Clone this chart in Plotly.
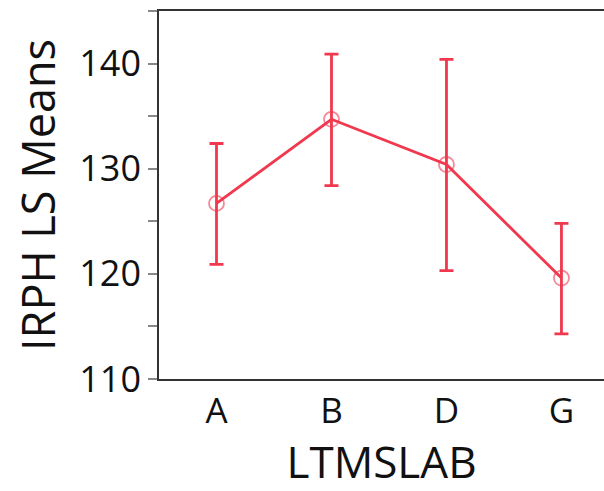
import plotly.graph_objects as go

# LS means of IRPH by lab, with lower/upper confidence limits
labs = ["A", "B", "D", "G"]
ls_means = [126.7, 134.7, 130.4, 119.6]
upper_cl = [132.4, 140.9, 140.4, 124.8]
lower_cl = [120.9, 128.4, 120.3, 114.3]

err_plus = [u - m for u, m in zip(upper_cl, ls_means)]
err_minus = [m - l for m, l in zip(ls_means, lower_cl)]

red = "rgb(240,56,78)"
font = "Open Sans, Noto Sans, sans-serif"

fig = go.Figure(
    go.Scatter(
        x=labs,
        y=ls_means,
        mode="lines+markers",
        line=dict(color=red, width=2.8),
        marker=dict(
            symbol="circle-open",
            size=15,
            color="rgba(240,56,78,0.6)",
            line=dict(width=1.8),
        ),
        error_y=dict(
            type="data",
            array=err_plus,
            arrayminus=err_minus,
            color=red,
            thickness=2.8,
            width=7,
        ),
        showlegend=False,
    )
)

fig.update_layout(
    width=604,
    height=491,
    margin=dict(l=159, r=0, t=11, b=112),
    plot_bgcolor="white",
    paper_bgcolor="white",
    font=dict(family=font, color="#111"),
    xaxis=dict(
        type="category",
        range=[-0.5, 3.37],
        showline=True,
        linecolor="#333",
        linewidth=1.5,
        mirror=True,
        ticks="",
        showgrid=False,
        tickfont=dict(size=35),
        title=dict(text="LTMSLAB", font=dict(size=44), standoff=18),
    ),
    yaxis=dict(
        range=[110, 145],
        tickvals=[110, 120, 130, 140],
        showline=True,
        linecolor="#333",
        linewidth=1.5,
        ticks="outside",
        ticklen=9,
        tickcolor="#888",
        tickwidth=1.5,
        minor=dict(tickvals=[115, 125, 135, 145], ticks="outside", ticklen=9,
                   tickcolor="#888", tickwidth=1.5),
        showgrid=False,
        zeroline=False,
        tickfont=dict(size=36),
        title=dict(text="IRPH LS Means", font=dict(size=45), standoff=10),
    ),
)

fig.write_html("out.html")
